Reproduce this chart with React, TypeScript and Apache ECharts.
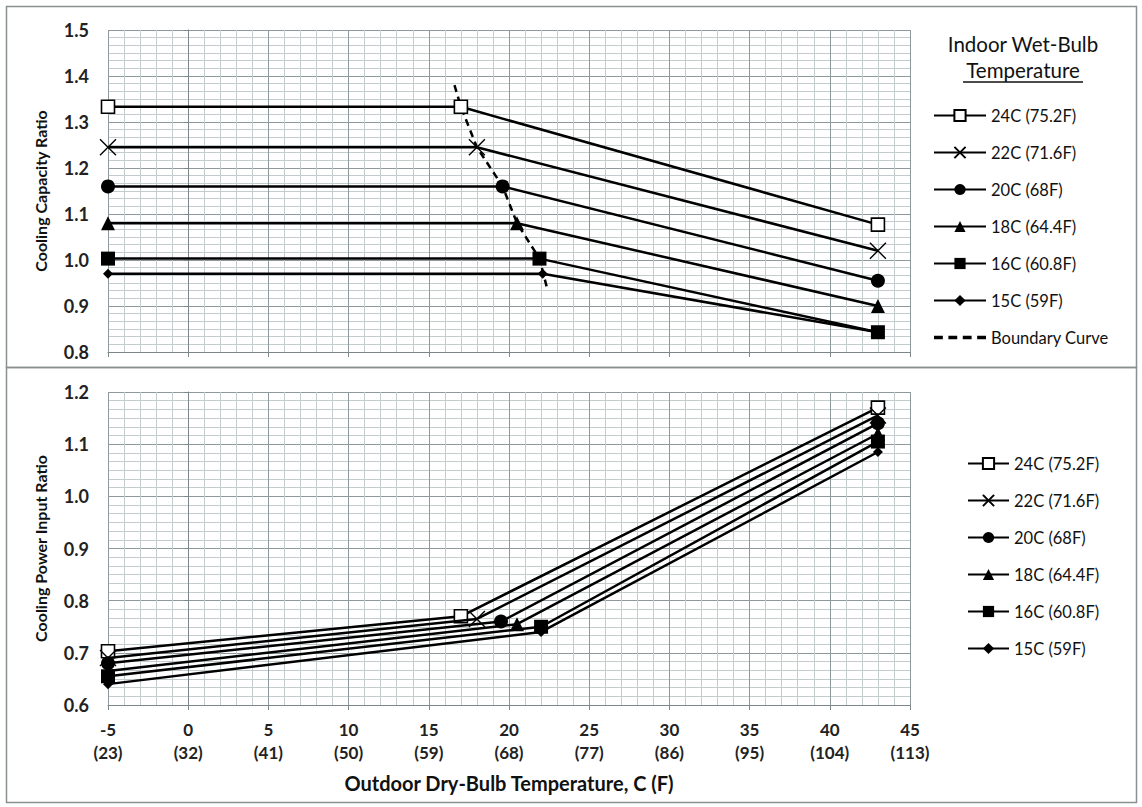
import React, { useEffect, useRef } from 'react';
import * as echarts from 'echarts';

// ---------- data ----------
const seriesNames = ['24C (75.2F)', '22C (71.6F)', '20C (68F)', '18C (64.4F)', '16C (60.8F)', '15C (59F)'];
const boundaryName = 'Boundary Curve';

const xTickF = ['23', '32', '41', '50', '59', '68', '77', '86', '95', '104', '113'];

// Cooling capacity ratio: [outdoor dry-bulb C, ratio]
const cap24 = [[-5, 1.333], [17, 1.333], [43, 1.077]];
const cap22 = [[-5, 1.245], [18, 1.245], [43, 1.02]];
const cap20 = [[-5, 1.16], [19.6, 1.16], [43, 0.955]];
const cap18 = [[-5, 1.08], [20.5, 1.08], [43, 0.9]];
const cap16 = [[-5, 1.003], [21.9, 1.003], [43, 0.843]];
const cap15 = [[-5, 0.97], [22.1, 0.97], [43, 0.843]];
const boundary = [[16.6, 1.38], [17, 1.333], [18, 1.245], [19.6, 1.16], [20.5, 1.08], [21.9, 1.003], [22.4, 0.935]];

// Cooling power input ratio
const pow24 = [[-5, 0.703], [17, 0.77], [43, 1.17]];
const pow22 = [[-5, 0.69], [18, 0.765], [43, 1.155]];
const pow20 = [[-5, 0.68], [19.5, 0.76], [43, 1.14]];
const pow18 = [[-5, 0.665], [20.5, 0.755], [43, 1.12]];
const pow16 = [[-5, 0.655], [22, 0.75], [43, 1.105]];
const pow15 = [[-5, 0.64], [22, 0.74], [43, 1.085]];

const capacitySets = [cap24, cap22, cap20, cap18, cap16, cap15];
const powerSets = [pow24, pow22, pow20, pow18, pow16, pow15];

// ---------- styles ----------
const FONT = 'Lato, "Open Sans", sans-serif';
const MAJOR = '#8e999c';
const MINOR = '#c3cbcd';

const markers = [
  { symbol: 'rect', size: 13, color: '#ffffff', borderWidth: 1.6 },
  { symbol: 'path://M0,0L10,10M10,0L0,10', size: 16, color: '#000000', borderWidth: 1.4 },
  { symbol: 'circle', size: 14, color: '#000000', borderWidth: 0 },
  { symbol: 'triangle', size: 14, color: '#000000', borderWidth: 0 },
  { symbol: 'rect', size: 14, color: '#000000', borderWidth: 0 },
  { symbol: 'diamond', size: 10, color: '#000000', borderWidth: 0 },
];

function makeSeries(name: string, data: number[][], i: number, gridIdx: number) {
  const m = markers[i];
  return {
    type: 'line',
    name,
    xAxisIndex: gridIdx,
    yAxisIndex: gridIdx,
    data,
    symbol: m.symbol,
    symbolSize: m.size,
    showAllSymbol: true,
    lineStyle: { color: '#000', width: 2.5 },
    itemStyle: { color: m.color, borderColor: '#000', borderWidth: m.borderWidth },
    z: 3 + i,
  };
}

function xAxisCfg(gridIndex: number, showLabels: boolean, name?: string) {
  return {
    type: 'value',
    gridIndex,
    min: -5,
    max: 45,
    interval: 5,
    name: name || '',
    nameLocation: 'middle',
    nameGap: 68,
    nameTextStyle: { fontFamily: FONT, fontWeight: 'bold', fontSize: 20, color: '#111' },
    axisLine: { show: true, onZero: false, lineStyle: { color: '#7d8688', width: 1 } },
    axisTick: { show: true, length: 5, lineStyle: { color: '#7d8688' } },
    axisLabel: {
      show: showLabels,
      margin: 13,
      fontFamily: FONT,
      fontWeight: 'bold',
      fontSize: 17,
      color: '#222',
      lineHeight: 23,
      formatter: (v: number) => `${v}\n(${xTickF[Math.round((v + 5) / 5)]})`,
    },
    splitLine: { show: true, lineStyle: { color: MAJOR, width: 1 } },
    minorTick: { show: false, splitNumber: 5 },
    minorSplitLine: { show: true, lineStyle: { color: MINOR, width: 1 } },
  };
}

function yAxisCfg(gridIndex: number, min: number, max: number, name: string) {
  return {
    type: 'value',
    gridIndex,
    min,
    max,
    interval: 0.1,
    name,
    nameLocation: 'middle',
    nameGap: 60,
    nameTextStyle: { fontFamily: FONT, fontWeight: 'bold', fontSize: 16, color: '#111' },
    axisLine: { show: true, lineStyle: { color: '#7d8688', width: 1 } },
    axisTick: { show: true, length: 4, lineStyle: { color: '#7d8688' } },
    axisLabel: {
      margin: 19,
      fontFamily: FONT,
      fontWeight: 'bold',
      fontSize: 18,
      color: '#222',
      formatter: (v: number) => v.toFixed(1),
    },
    splitLine: { show: true, lineStyle: { color: MAJOR, width: 1 } },
    minorTick: { show: false, splitNumber: 6 },
    minorSplitLine: { show: true, lineStyle: { color: MINOR, width: 1 } },
  };
}

export default function App() {
  const ref = useRef<HTMLDivElement>(null);
  useEffect(() => {
    document.body.style.margin = '0';
    const chart = echarts.init(ref.current!, null, { renderer: 'svg' });

    const series: any[] = [];
    capacitySets.forEach((d, i) => series.push(makeSeries(seriesNames[i], d, i, 0)));
    series.push({
      type: 'line',
      name: boundaryName,
      xAxisIndex: 0,
      yAxisIndex: 0,
      data: boundary,
      symbol: 'none',
      lineStyle: { color: '#000', width: 2.5, type: [7, 5] },
      itemStyle: { color: '#000' },
      z: 2,
    });
    powerSets.forEach((d, i) => series.push(makeSeries(seriesNames[i], d, i, 1)));

    const legendText = { fontFamily: FONT, fontSize: 16.5, color: '#111' };

    chart.setOption({
      animation: false,
      backgroundColor: '#ffffff',
      grid: [
        { left: 108, top: 30, width: 802, height: 322 },
        { left: 108, top: 392, width: 802, height: 313 },
      ],
      xAxis: [xAxisCfg(0, false), xAxisCfg(1, true, 'Outdoor Dry-Bulb Temperature, C (F)')],
      yAxis: [
        yAxisCfg(0, 0.8, 1.5, 'Cooling Capacity Ratio'),
        yAxisCfg(1, 0.6, 1.2, 'Cooling Power Input Ratio'),
      ],
      legend: [
        {
          data: [
            ...seriesNames,
            { name: boundaryName, icon: 'path://M0,0h8v3h-8zM13,0h8v3h-8zM26,0h8v3h-8zM39,0h8v3h-8z' },
          ],
          orient: 'vertical',
          left: 928,
          top: 102,
          itemWidth: 52,
          itemHeight: 14,
          itemGap: 20,
          selectedMode: false,
          textStyle: legendText,
        },
        {
          data: seriesNames,
          orient: 'vertical',
          left: 962,
          top: 450,
          itemWidth: 41,
          itemHeight: 14,
          itemGap: 20,
          selectedMode: false,
          textStyle: legendText,
        },
      ],
      graphic: [
        {
          type: 'rect',
          shape: { x: 6.5, y: 6.5, width: 1130, height: 361 },
          style: { fill: 'none', stroke: '#8a8f90', lineWidth: 1.5 },
          silent: true,
        },
        {
          type: 'rect',
          shape: { x: 6.5, y: 367.5, width: 1130, height: 435 },
          style: { fill: 'none', stroke: '#8a8f90', lineWidth: 1.5 },
          silent: true,
        },
        {
          type: 'text',
          x: 1023,
          y: 44,
          style: { text: 'Indoor Wet-Bulb', fontFamily: FONT, fontSize: 20.5, fill: '#111', align: 'center', verticalAlign: 'middle' },
        },
        {
          type: 'text',
          x: 1023,
          y: 70,
          style: { text: 'Temperature', fontFamily: FONT, fontSize: 20.5, fill: '#111', align: 'center', verticalAlign: 'middle' },
        },
        {
          type: 'line',
          shape: { x1: 963, y1: 82, x2: 1083, y2: 82 },
          style: { stroke: '#111', lineWidth: 1.3 },
        },
      ],
      series,
    });

    return () => chart.dispose();
  }, []);
  return <div ref={ref} style={{ width: 1142, height: 807 }} />;
}
